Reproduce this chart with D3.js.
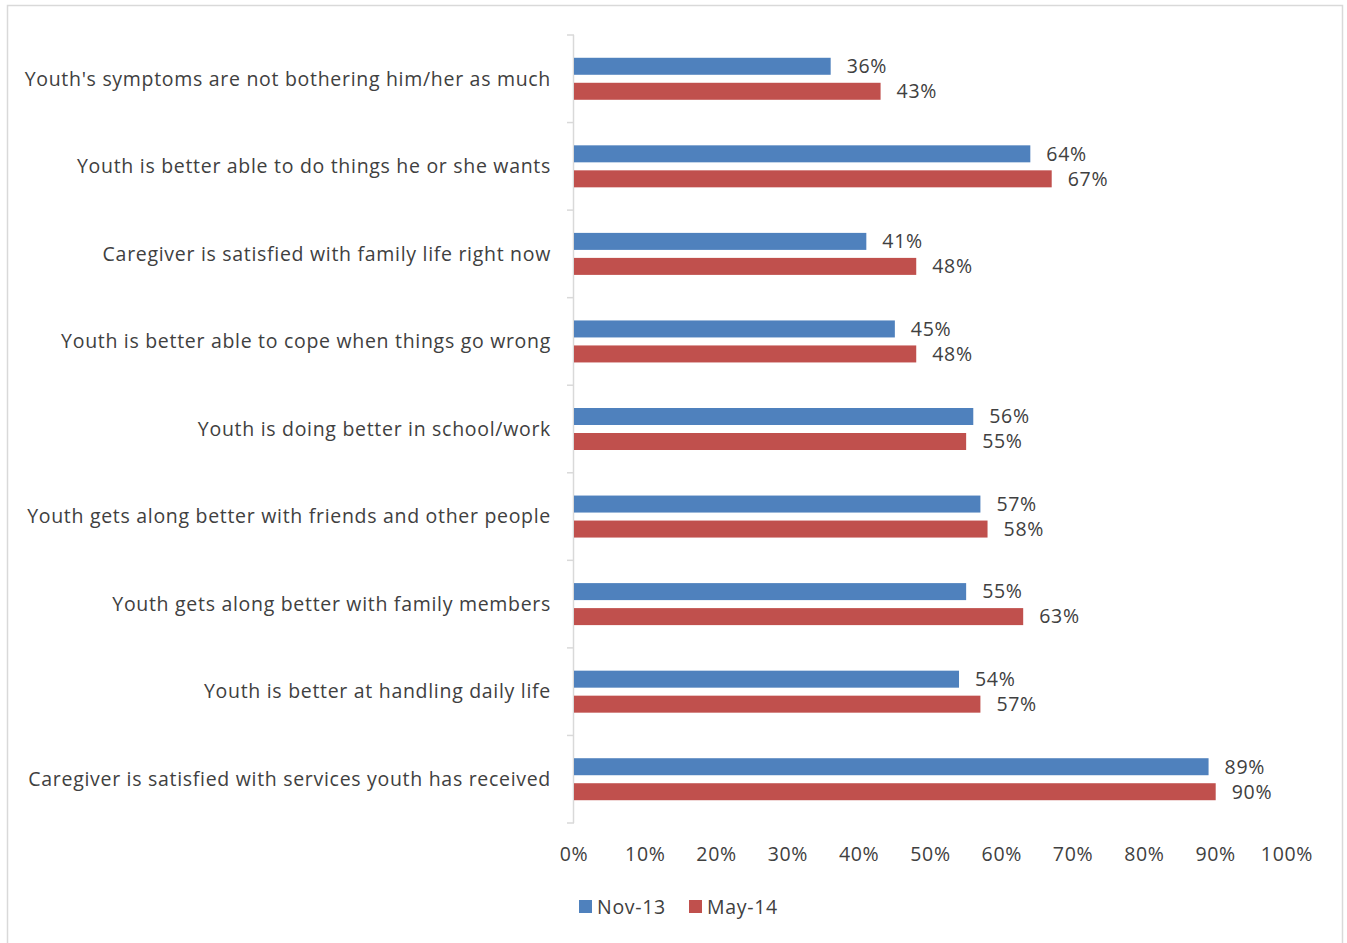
<!DOCTYPE html>
<html>
<head>
<meta charset="utf-8">
<script src="https://cdn.jsdelivr.net/npm/d3@7"></script>
<style>
  html, body { margin: 0; padding: 0; background: #fff; }
  svg { display: block; }
  text { font-family: "Open Sans", Lato, sans-serif; fill: #404040; letter-spacing: 0.7px; }
</style>
</head>
<body>
<svg id="chart" width="1347" height="943"></svg>
<script>
// Outcome statements (top to bottom)
const categories = [
  "Youth's symptoms are not bothering him/her as much",
  "Youth is better able to do things he or she wants",
  "Caregiver is satisfied with family life right now",
  "Youth is better able to cope when things go wrong",
  "Youth is doing better in school/work",
  "Youth gets along better with friends and other people",
  "Youth gets along better with family members",
  "Youth is better at handling daily life",
  "Caregiver is satisfied with services youth has received"
];
// Percent agreeing, by survey wave
const nov13 = [36, 64, 41, 45, 56, 57, 55, 54, 89];
const may14 = [43, 67, 48, 48, 55, 58, 63, 57, 90];
const seriesNames = ["Nov-13", "May-14"];
const seriesColors = ["#4f81bd", "#c0504d"];
const xTicks = [0, 10, 20, 30, 40, 50, 60, 70, 80, 90, 100];

(function draw() {
  const svg = d3.select("#chart");

  // chart frame
  svg.append("rect")
    .attr("x", 7.5).attr("y", 5.5)
    .attr("width", 1335).attr("height", 945)
    .attr("fill", "#fff").attr("stroke", "#d9d9d9").attr("stroke-width", 1.5);

  const plotLeft = 574, plotRight = 1287, plotTop = 35, plotBottom = 823;

  const x = d3.scaleLinear().domain([0, 100]).range([plotLeft, plotRight]);
  const y = d3.scaleBand().domain(categories).range([plotTop, plotBottom]);
  const inner = d3.scaleBand().domain(seriesNames)
    .range([y.bandwidth() / 2 - 21, y.bandwidth() / 2 + 21]).paddingInner(0.32);

  // category axis with tick marks at band boundaries
  const axisG = svg.append("g");
  axisG.append("line")
    .attr("x1", plotLeft - 0.5).attr("x2", plotLeft - 0.5)
    .attr("y1", plotTop).attr("y2", plotBottom)
    .attr("stroke", "#d9d9d9").attr("stroke-width", 1.5);
  const bounds = categories.map(c => y(c)).concat([plotBottom]);
  axisG.selectAll("line.tick").data(bounds).join("line")
    .attr("class", "tick")
    .attr("x1", plotLeft - 7).attr("x2", plotLeft)
    .attr("y1", d => d).attr("y2", d => d)
    .attr("stroke", "#d9d9d9").attr("stroke-width", 1.5);

  axisG.selectAll("text.cat").data(categories).join("text")
    .attr("class", "cat")
    .attr("x", 551)
    .attr("y", d => y(d) + y.bandwidth() / 2)
    .attr("dy", "0.35em")
    .attr("text-anchor", "end")
    .style("font-size", "19.5px")
    .text(d => d);

  // value axis labels (no line)
  svg.append("g").selectAll("text").data(xTicks).join("text")
    .attr("x", d => x(d))
    .attr("y", 854)
    .attr("dy", "0.35em")
    .attr("text-anchor", "middle")
    .style("font-size", "19.5px")
    .text(d => d + "%");

  // bars with value labels
  [nov13, may14].forEach((vals, si) => {
    const g = svg.append("g");
    const rows = categories.map((c, i) => ({ c, v: vals[i] }));
    g.selectAll("rect").data(rows).join("rect")
      .attr("x", x(0))
      .attr("y", d => y(d.c) + inner(seriesNames[si]))
      .attr("width", d => x(d.v) - x(0))
      .attr("height", inner.bandwidth())
      .attr("fill", seriesColors[si]);
    g.selectAll("text").data(rows).join("text")
      .attr("x", d => x(d.v) + 16)
      .attr("y", d => y(d.c) + inner(seriesNames[si]) + inner.bandwidth() / 2)
      .attr("dy", "0.35em")
      .style("font-size", "19.5px")
      .text(d => d.v + "%");
  });

  // legend
  const legend = svg.append("g").attr("transform", "translate(579,907)");
  const lx = [0, 110];
  seriesNames.forEach((n, i) => {
    legend.append("rect")
      .attr("x", lx[i]).attr("y", -7)
      .attr("width", 13).attr("height", 13)
      .attr("fill", seriesColors[i]);
    legend.append("text")
      .attr("x", lx[i] + 18).attr("y", 0)
      .attr("dy", "0.35em")
      .style("font-size", "19.5px")
      .text(n);
  });
})();
</script>
</body>
</html>
